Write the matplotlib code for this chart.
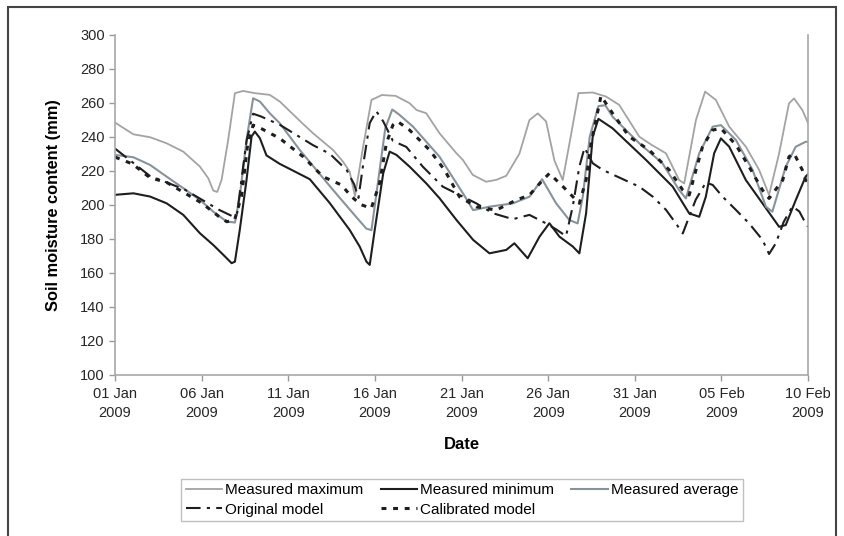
"""Soil moisture content: measured vs modelled, Jan-Feb 2009."""

import matplotlib
matplotlib.use("Agg")
import matplotlib.pyplot as plt
from matplotlib.patches import Rectangle

plt.rcParams["font.family"] = ["Liberation Sans", "DejaVu Sans"]

# days since 01 Jan 2009
tick_days = [0, 5, 10, 15, 20, 25, 30, 35, 40]
tick_labels = ["01 Jan\n2009", "06 Jan\n2009", "11 Jan\n2009", "16 Jan\n2009",
               "21 Jan\n2009", "26 Jan\n2009", "31 Jan\n2009", "05 Feb\n2009",
               "10 Feb\n2009"]

max_days = [0, 1.06, 2.02, 2.98, 3.94, 4.9, 5.38, 5.67, 5.9, 6.15, 6.53, 6.92,
            7.4, 8.07, 8.93, 9.51, 10.85, 11.43, 12.58, 13.16, 13.54, 13.85,
            14.3, 14.8, 15.4, 16.2, 17.0, 17.4, 17.96, 18.73, 19.7, 20.08,
            20.65, 21.42, 22.0, 22.58, 23.34, 23.92, 24.4, 24.88, 25.36, 25.84,
            26.3, 26.75, 27.57, 28.34, 29.1, 30.26, 31.0, 31.8, 32.56, 32.85,
            33.53, 34.06, 34.68, 35.45, 36.41, 37.18, 37.75, 38.33, 38.9,
            39.19, 39.67, 40]
max_vals = [248.3, 241.4, 239.7, 236.1, 231.2, 222.4, 215.6, 208.3, 207.5,
            214.6, 238.1, 265.6, 266.9, 265.6, 264.6, 260.7, 247.5, 242,
            232.2, 225.3, 219.5, 205, 233, 261.6, 264.5, 264, 259.7, 255.7,
            253.8, 242, 230.3, 226.3, 217.5, 213.5, 214.6, 217, 230, 249.8,
            253.7, 249, 226, 214.5, 240, 265.6, 266, 263.6, 258.7, 240, 235,
            230.2, 214.5, 212.5, 249.8, 266.5, 261.6, 245.9, 234.1, 220.4,
            205.7, 230.2, 259.6, 262.5, 255.7, 248]

min_days = [0, 1.06, 2.02, 2.98, 3.94, 4.9, 5.67, 6.25, 6.73, 6.92, 7.2, 7.59,
            7.88, 8.07, 8.36, 8.74, 9.51, 10.09, 11.24, 12.39, 13.54, 14.12,
            14.51, 14.7, 14.99, 15.48, 15.85, 16.24, 17.0, 17.96, 18.73, 19.7,
            20.67, 21.61, 22.58, 23.05, 23.82, 24.5, 25.07, 25.65, 26.42,
            26.8, 27.19, 27.57, 27.9, 28.72, 30.65, 32.19, 33.14, 33.72, 34.1,
            34.58, 34.97, 35.45, 36.41, 37.37, 38.33, 38.71, 39.29, 39.86, 40]
min_vals = [205.8, 206.7, 204.8, 200.8, 194, 183.2, 176.3, 170.5, 165.6,
            166.5, 185.2, 214.6, 240.1, 243, 239.1, 229, 224, 221, 215, 201,
            185.2, 175.4, 166.5, 164.6, 185.2, 218.5, 231.2, 229.3, 222.4,
            212.6, 203.8, 191.1, 179.3, 171.4, 173.4, 177.3, 168.5, 181.2,
            189.1, 181.2, 175.4, 171.4, 195, 240.1, 250.5, 244.9, 226.3,
            210.6, 194.9, 192.9, 204.7, 230.2, 239, 234.1, 214.5, 200.8, 187,
            188, 202.7, 216.5, 218]

avg_days = [0, 1.06, 2.02, 2.98, 3.94, 4.9, 5.67, 6.44, 6.92, 7.2, 7.59, 7.97,
            8.36, 8.93, 9.51, 10.66, 12.58, 13.9, 14.5, 14.8, 15.2, 15.6, 16.0,
            16.4, 17.2, 18.73, 20.08, 20.67, 21.6, 22.96, 23.92, 24.65, 25.46,
            26.22, 26.7, 27.0, 27.4, 27.9, 28.3, 28.72, 30.26, 31.6, 32.56,
            32.95, 33.72, 34.5, 34.97, 35.84, 36.8, 37.57, 37.94, 38.71, 39.29,
            39.86, 40]
avg_vals = [229.3, 227.9, 223.4, 216.5, 209.7, 202.8, 195.9, 190.1, 189.5,
            204.8, 238.1, 262.6, 260.7, 253.8, 247.9, 232.2, 208.7, 193, 186,
            185, 215, 245, 256, 253, 245.9, 228.2, 206.7, 196.8, 198.8, 200.8,
            204.7, 215, 200.8, 191, 189, 205, 240, 258, 258.5, 251.7, 236.1,
            224.3, 208.6, 203.7, 230.2, 245.9, 246.8, 238, 220.4, 198.8, 195.9,
            222.3, 234.1, 237, 237]

orig_days = [0, 1.0, 2.0, 3.0, 4.0, 5.0, 6.0, 6.82, 7.05, 7.3, 7.6, 7.97, 8.4,
             9.51, 10.47, 11.43, 12.39, 13.37, 13.8, 14.05, 14.3, 14.7, 15.08,
             15.48, 16.04, 16.81, 17.77, 18.92, 20.08, 20.85, 21.8, 22.96,
             23.92, 24.88, 25.46, 26.03, 26.42, 26.8, 27.1, 27.57, 28.14, 29.1,
             30.26, 31.04, 31.8, 32.37, 32.77, 33.14, 33.52, 34.1, 34.5, 35.06,
             35.83, 36.6, 37.37, 37.75, 38.14, 38.6, 39.1, 39.5, 39.86, 40]
orig_vals = [233, 225, 217, 213, 209, 203, 197, 193, 195, 215, 238, 253.5,
             252, 247, 241, 235, 230, 220.4, 212, 204, 222, 248, 255, 249,
             237.5, 234, 222.3, 210.6, 204.7, 200.8, 195, 191.5, 194, 189,
             185.5, 181.5, 199, 222.4, 233.5, 224.4, 220.5, 216, 210.6, 204.7,
             197, 189, 183.1, 193, 203, 213, 211.6, 204.8, 197, 189, 179.3,
             171, 177.3, 190, 199, 196, 189, 187]

cal_days = [0, 1.0, 2.0, 3.0, 4.0, 5.0, 6.0, 6.45, 6.9, 7.3, 7.65, 7.97, 8.4,
            9.51, 10.85, 12.0, 13.07, 13.64, 14.2, 14.79, 15.27, 15.66, 16.04,
            16.3, 17.0, 18.16, 19.02, 19.88, 20.85, 22.0, 23.15, 23.92, 24.69,
            25.07, 25.86, 26.32, 26.8, 27.19, 27.48, 27.76, 28.05, 28.72,
            29.68, 30.84, 31.99, 32.77, 33.14, 33.53, 33.91, 34.49, 34.97,
            35.84, 36.6, 37.37, 37.75, 38.54, 38.9, 39.19, 39.67, 39.86, 40]
cal_vals = [228, 224, 216, 213, 207, 201, 193, 190, 191, 205, 235, 246.8, 245,
            239, 228.3, 216.5, 211.6, 204.8, 200, 197.9, 212.6, 236.1, 246.9,
            249, 243.9, 232.1, 220.4, 204.7, 198.8, 196.8, 202.7, 205.7, 214.5,
            218.4, 210.6, 205.8, 200.8, 214.6, 236.1, 249.9, 264, 253.7, 240,
            232.1, 220.4, 208.6, 205.7, 220.4, 234.1, 243.9, 244.9, 235.1,
            222.3, 208.6, 203.7, 214.5, 228.2, 230.2, 220.4, 214.5, 213]


fig = plt.figure(figsize=(8.44, 5.36), dpi=100)
ax = fig.add_axes([0.1363, 0.3009, 0.8211, 0.6344])

h_max, = ax.plot(max_days, max_vals, color="#a3a3a3", lw=1.3)
h_min, = ax.plot(min_days, min_vals, color="#1e1e1e", lw=1.5)
h_avg, = ax.plot(avg_days, avg_vals, color="#87939b", lw=1.5)
h_orig, = ax.plot(orig_days, orig_vals, color="#1e1e1e", lw=1.5,
                  linestyle=(0, (7, 3, 1.5, 3)))
h_cal, = ax.plot(cal_days, cal_vals, color="#1e1e1e", lw=2.2,
                 linestyle=(0, (1.6, 2.2)))

ax.set_xlim(0, 40)
ax.set_ylim(100, 300)
ax.set_yticks(range(100, 301, 20))
ax.set_xticks(tick_days)
ax.set_xticklabels(tick_labels)
ax.tick_params(axis="both", colors="#999999", labelcolor="#262626",
               labelsize=10.5, length=4, width=1)
ax.tick_params(axis="x", pad=5)
for lab in ax.get_xticklabels():
    lab.set_linespacing(1.45)

for side in ["left", "bottom", "right"]:
    ax.spines[side].set_color("#a8a8a8")
    ax.spines[side].set_linewidth(1.2)
ax.spines["top"].set_visible(False)

ax.set_ylabel("Soil moisture content (mm)", fontsize=11.8, fontweight="bold",
              labelpad=14)
ax.set_xlabel("Date", fontsize=12, fontweight="bold", labelpad=12)

# legend filled row by row: max, min, avg / original, calibrated
handles = [h_max, h_orig, h_min, h_cal, h_avg]
labels = ["Measured maximum", "Original model", "Measured minimum",
          "Calibrated model", "Measured average"]
leg = fig.legend(handles, labels, ncol=3, loc="center",
                 bbox_to_anchor=(0.5474, 0.0672), fontsize=11,
                 frameon=True, fancybox=False, edgecolor="#b0b0b0",
                 handlelength=2.4, handletextpad=0.2, columnspacing=1.1,
                 borderpad=0.3, labelspacing=0.35)
leg.get_frame().set_linewidth(1.0)

fig.patches.append(Rectangle((0.0095, -0.01), 0.981, 0.997,
                             transform=fig.transFigure, fill=False,
                             edgecolor="#444444", lw=1.5))

fig.savefig("out.png", dpi=100)
